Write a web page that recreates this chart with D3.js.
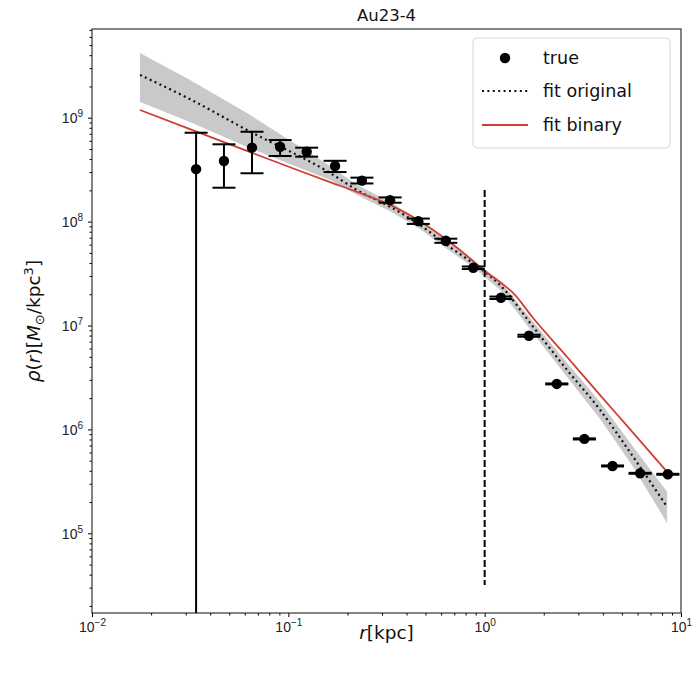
<!DOCTYPE html>
<html>
<head>
<meta charset="utf-8">
<script src="https://cdn.jsdelivr.net/npm/d3@7"></script>
<style>
  body { margin: 0; background: #fff; }
  svg { display: block; font-family: "DejaVu Sans", sans-serif; }
</style>
</head>
<body>
<svg id="chart" width="694" height="674"></svg>
<script>
// ---- data ----
const rTrue = [0.0339, 0.0470, 0.0653, 0.0908, 0.124, 0.173, 0.237, 0.330, 0.459, 0.634, 0.875, 1.21, 1.68, 2.33, 3.22, 4.48, 6.19, 8.57];
const rhoTrue = [3.2e8, 3.83e8, 5.15e8, 5.26e8, 4.71e8, 3.43e8, 2.48e8, 1.61e8, 1.01e8, 6.55e7, 3.6e7, 1.85e7, 7.98e6, 2.74e6, 8.1e5, 4.45e5, 3.78e5, 3.7e5];
const rhoErrLo = [0, 2.12e8, 2.92e8, 4.28e8, 4.22e8, 3.0e8, 2.33e8, 1.52e8, 9.5e7, 6.25e7, 3.5e7, 1.8e7, 7.8e6, 2.71e6, 8.0e5, 4.4e5, 3.74e5, 3.66e5];
const rhoErrHi = [7.17e8, 5.55e8, 7.33e8, 6.1e8, 5.15e8, 3.85e8, 2.65e8, 1.71e8, 1.07e8, 6.85e7, 3.7e7, 1.9e7, 8.15e6, 2.77e6, 8.2e5, 4.5e5, 3.82e5, 3.74e5];

const rFit = [0.01756, 0.03155, 0.0616, 0.1631, 0.2239, 0.3297, 0.4688, 0.6436, 0.8727, 1.198, 1.764, 2.630, 3.872, 5.702, 8.495];
const rhoOrig = [2.58e9, 1.51e9, 7.62e8, 2.94e8, 2.01e8, 1.39e8, 9.27e7, 5.94e7, 3.97e7, 2.45e7, 9.73e6, 3.73e6, 1.54e6, 5.46e5, 1.80e5];
const bandHi = [4.20e9, 2.31e9, 1.11e9, 3.43e8, 2.25e8, 1.55e8, 1.01e8, 6.50e7, 4.27e7, 2.68e7, 1.09e7, 4.36e6, 1.84e6, 6.81e5, 2.51e5];
const bandLo = [1.42e9, 9.10e8, 5.22e8, 2.51e8, 1.80e8, 1.26e8, 8.49e7, 5.45e7, 3.66e7, 2.20e7, 8.41e6, 3.19e6, 1.26e6, 4.38e5, 1.25e5];

const rBin = [0.01756, 0.03155, 0.0616, 0.1147, 0.1631, 0.2239, 0.3297, 0.4688, 0.6436, 0.8727, 0.970, 1.198, 1.395, 1.764, 2.630, 3.872, 5.313, 8.495];
const rhoBin = [1.186e9, 7.78e8, 4.79e8, 3.07e8, 2.40e8, 1.93e8, 1.45e8, 1.01e8, 6.65e7, 4.18e7, 3.50e7, 2.62e7, 2.06e7, 1.18e7, 4.98e6, 2.14e6, 1.08e6, 3.90e5];

const rCut = [1, 1];
const rhoCut = [2.01e8, 3.18e4];

const xMajor = [1e-2, 1e-1, 1, 10];
const xMajorExp = ["\u22122", "\u22121", "0", "1"];
const yMajor = [1e5, 1e6, 1e7, 1e8, 1e9];
const yMajorExp = ["5", "6", "7", "8", "9"];
const legendLabels = ["true", "fit original", "fit binary"];
const titleText = "Au23-4";

// ---- layout ----
const M = {left: 92, top: 29, right: 681, bottom: 613};
const W = M.right - M.left, H = M.bottom - M.top;
const redColor = "#cf3e36";

const svg = d3.select("#chart");
const x = d3.scaleLog().domain([1e-2, 10]).range([0, W]);
const y = d3.scaleLog().domain([Math.pow(10, 4.233), Math.pow(10, 9.854)]).range([H, 0]);

const g = svg.append("g").attr("transform", `translate(${M.left},${M.top})`);

svg.append("defs").append("clipPath").attr("id", "clip")
  .append("rect").attr("x", 0).attr("y", 0).attr("width", W).attr("height", H);

const plot = g.append("g").attr("clip-path", "url(#clip)");

// band
const bandData = rFit.map((r, i) => ({r, lo: bandLo[i], hi: bandHi[i]}));
plot.append("path").datum(bandData)
  .attr("d", d3.area().x(d => x(d.r)).y0(d => y(d.lo)).y1(d => y(d.hi)))
  .attr("fill", "#c9c9c9").attr("stroke", "none");

// fit original dotted
plot.append("path").datum(rFit.map((r, i) => ({r, v: rhoOrig[i]})))
  .attr("d", d3.line().x(d => x(d.r)).y(d => y(d.v)).curve(d3.curveMonotoneX))
  .attr("fill", "none").attr("stroke", "#111").attr("stroke-width", 2.2)
  .attr("stroke-dasharray", "2,3.4");

// fit binary
plot.append("path").datum(rBin.map((r, i) => ({r, v: rhoBin[i]})))
  .attr("d", d3.line().x(d => x(d.r)).y(d => y(d.v)).curve(d3.curveMonotoneX))
  .attr("fill", "none").attr("stroke", redColor).attr("stroke-width", 1.8);

// vertical dashed line
plot.append("path").datum(rCut.map((r, i) => ({r, v: rhoCut[i]})))
  .attr("d", d3.line().x(d => x(d.r)).y(d => y(d.v)))
  .attr("fill", "none").attr("stroke", "#000").attr("stroke-width", 2)
  .attr("stroke-dasharray", "7,3");

// error bars + points
const pts = rTrue.map((r, i) => ({r, v: rhoTrue[i], lo: rhoErrLo[i], hi: rhoErrHi[i]}));
const yPix = v => v > 0 ? y(v) : H + 20;
const eb = plot.append("g").attr("stroke", "#000").attr("stroke-width", 2);
pts.forEach(d => {
  const cx = x(d.r);
  eb.append("line").attr("x1", cx).attr("x2", cx).attr("y1", yPix(d.lo)).attr("y2", yPix(d.hi));
  eb.append("line").attr("x1", cx - 11.5).attr("x2", cx + 11.5).attr("y1", yPix(d.lo)).attr("y2", yPix(d.lo));
  eb.append("line").attr("x1", cx - 11.5).attr("x2", cx + 11.5).attr("y1", yPix(d.hi)).attr("y2", yPix(d.hi));
});
plot.append("g").selectAll("circle").data(pts).join("circle")
  .attr("cx", d => x(d.r)).attr("cy", d => y(d.v)).attr("r", 5.2).attr("fill", "#000");

// ---- axes ----
function minorTicks(lo, hi) {
  const out = [];
  for (let e = lo; e < hi; e++) for (let k = 2; k <= 9; k++) out.push(k * Math.pow(10, e));
  return out;
}
const xMinor = minorTicks(-2, 1);
const yMinor = minorTicks(4, 10).filter(v => v >= y.domain()[0] && v <= y.domain()[1]);

function styleAxis(sel) {
  sel.select(".domain").remove();
  sel.selectAll("line").attr("stroke", "#000").attr("stroke-width", 1);
}

const xAxisG = g.append("g").attr("transform", `translate(0,${H})`)
  .call(d3.axisBottom(x).tickValues(xMajor).tickSize(4).tickPadding(4).tickFormat(""));
styleAxis(xAxisG);
const xMinG = g.append("g").attr("transform", `translate(0,${H})`)
  .call(d3.axisBottom(x).tickValues(xMinor).tickSize(2.5).tickFormat(""));
styleAxis(xMinG);
xAxisG.selectAll(".tick").each(function(d, i) {
  const t = d3.select(this).append("text").attr("fill", "#222")
    .attr("y", 19).attr("text-anchor", "middle").attr("font-size", 14);
  t.append("tspan").text("10");
  t.append("tspan").attr("dy", -6).attr("font-size", 10).text(xMajorExp[i]);
});

const yAxisG = g.append("g")
  .call(d3.axisLeft(y).tickValues(yMajor).tickSize(4).tickFormat(""));
styleAxis(yAxisG);
const yMinG = g.append("g")
  .call(d3.axisLeft(y).tickValues(yMinor).tickSize(2.5).tickFormat(""));
styleAxis(yMinG);
yAxisG.selectAll(".tick").each(function(d, i) {
  const t = d3.select(this).append("text").attr("fill", "#222")
    .attr("x", -9).attr("y", 5).attr("text-anchor", "end").attr("font-size", 14);
  t.append("tspan").text("10");
  t.append("tspan").attr("dy", -6).attr("font-size", 10).text(yMajorExp[i]);
});

// frame
g.append("rect").attr("x", 0).attr("y", 0).attr("width", W).attr("height", H)
  .attr("fill", "none").attr("stroke", "#222").attr("stroke-width", 1.1);

// title and labels
svg.append("text").attr("x", M.left + W / 2).attr("y", 21).attr("text-anchor", "middle")
  .attr("font-size", 16.5).attr("fill", "#111").text(titleText);

const xl = svg.append("text").attr("x", M.left + W / 2).attr("y", 639).attr("text-anchor", "middle")
  .attr("font-size", 18.5).attr("fill", "#111");
xl.append("tspan").attr("font-style", "italic").text("r");
xl.append("tspan").text("[kpc]");

const yl = svg.append("text").attr("transform", `translate(40,${M.top + H / 2}) rotate(-90)`)
  .attr("text-anchor", "middle").attr("font-size", 18.5).attr("fill", "#111");
yl.append("tspan").attr("font-style", "italic").text("\u03C1");
yl.append("tspan").text("(");
yl.append("tspan").attr("font-style", "italic").text("r");
yl.append("tspan").text(")[");
yl.append("tspan").attr("font-style", "italic").text("M");
yl.append("tspan").attr("font-size", 13).attr("dy", 4).text("\u2299");
yl.append("tspan").attr("dy", -4).text("/kpc");
yl.append("tspan").attr("font-size", 13).attr("dy", -7).text("3");
yl.append("tspan").attr("dy", 7).text("]");

// legend
const lg = svg.append("g");
lg.append("rect").attr("x", 473).attr("y", 38).attr("width", 197).attr("height", 110)
  .attr("rx", 4).attr("fill", "#fff").attr("fill-opacity", 0.85)
  .attr("stroke", "#d6d6d6").attr("stroke-width", 1);
const rowY = [58, 91, 125];
lg.append("circle").attr("cx", 505).attr("cy", rowY[0]).attr("r", 5.2).attr("fill", "#000");
lg.append("line").attr("x1", 482).attr("x2", 528).attr("y1", rowY[1]).attr("y2", rowY[1])
  .attr("stroke", "#111").attr("stroke-width", 2.2).attr("stroke-dasharray", "2,3.4");
lg.append("line").attr("x1", 482).attr("x2", 528).attr("y1", rowY[2]).attr("y2", rowY[2])
  .attr("stroke", redColor).attr("stroke-width", 1.8);
legendLabels.forEach((t, i) => {
  lg.append("text").attr("x", 543).attr("y", rowY[i] + 6).attr("font-size", 17.5)
    .attr("fill", "#111").text(t);
});
</script>
</body>
</html>
